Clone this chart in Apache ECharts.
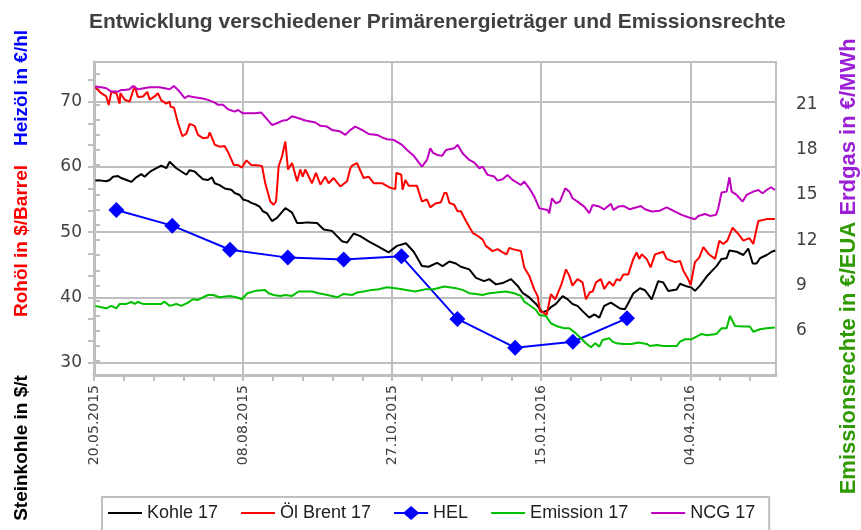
<!DOCTYPE html>
<html>
<head>
<meta charset="utf-8">
<script src="https://cdn.jsdelivr.net/npm/echarts@6/dist/echarts.min.js"></script>
<style>
  html, body { margin: 0; padding: 0; background: #fff; }
  #chart { width: 861px; height: 530px; }
</style>
</head>
<body>
<div id="chart"></div>
<script>
// x values are days after 20.05.2015
const startDate = Date.UTC(2015, 4, 20)
const xLabelDays = [0, 80, 160, 240, 320]
const leftLabels = [30, 40, 50, 60, 70]
const rightLabels = [6, 9, 12, 15, 18, 21]

const kohle = [[0.7,57.9],[3.9,57.9],[6.6,57.8],[8.4,58.0],[10.2,58.5],[12.9,58.6],[14.7,58.3],[17.4,58.0],[20,57.7],[22.7,58.4],[25.4,58.9],[27.2,58.5],[29,59.0],[30.8,59.4],[33.5,59.8],[36.1,60.2],[38.8,59.8],[40.6,60.8],[42.4,60.3],[44.2,59.8],[46.9,59.3],[49.6,58.8],[51.3,59.5],[54,59.3],[55.8,58.8],[58.5,58.1],[61.2,58.0],[63.3,58.4],[64.8,57.5],[67.4,57.2],[70.1,56.7],[73.7,56.5],[75.5,56.0],[78.2,55.7],[80,55.0],[82.6,54.8],[84.4,54.5],[87.1,54.2],[88.9,53.9],[90.7,53.2],[92.8,52.9],[95.5,51.7],[98.2,52.2],[102.7,53.7],[106.3,53.0],[109,51.4],[111.6,51.4],[114.3,51.5],[119.7,51.4],[123.3,50.4],[127.7,50.2],[133.1,48.6],[135.8,48.4],[139.4,49.8],[142.9,49.4],[147.4,48.6],[151.9,47.9],[158.1,46.9],[162.6,47.9],[167.4,48.3],[171.6,47.0],[176,44.8],[179.6,44.7],[184.1,45.3],[187.1,44.8],[190.7,45.5],[194.2,45.2],[196.9,44.7],[201.4,44.3],[205,43.0],[209.4,42.5],[212.1,42.8],[215.7,42.0],[219.3,42.2],[223.8,42.8],[227.3,41.8],[230,40.7],[233.6,40.0],[237.2,39.0],[240.7,37.7],[243.4,38.0],[245.2,38.5],[247.9,39.0],[251.5,40.2],[254.2,39.7],[256.8,39.0],[259.5,38.7],[262.2,37.9],[265.8,36.9],[268.5,37.4],[271.2,36.9],[273.8,38.7],[277.4,39.2],[280.1,38.7],[282.3,38.3],[284.9,38.2],[286.7,39.1],[289.4,40.6],[293,41.4],[295.7,41.1],[299.3,39.7],[302.8,42.5],[305.5,42.3],[308.2,41.0],[312.7,41.2],[314.5,42.1],[318,41.7],[320.7,41.5],[322.5,41.0],[325.2,41.8],[328.8,43.2],[332.4,44.3],[334.1,44.8],[336.8,45.9],[339.5,46.0],[341,47.2],[344.9,47.0],[348.5,46.5],[351.1,47.5],[353.5,45.2],[355.6,45.2],[357.4,46.0],[361,46.5],[363.7,47.0],[365.6,47.2]]

const brent = [[0.7,72.2],[3.9,71.3],[6.6,70.8],[7.9,69.5],[9.3,71.5],[12,71.3],[13.8,69.7],[14.1,71.3],[16.5,70.3],[19.1,70.0],[21.8,72.4],[23.6,70.7],[26.3,70.8],[28.6,71.5],[29.9,70.3],[32.6,70.8],[34.3,71.3],[36.1,70.2],[38.8,69.7],[40.6,70.0],[41.1,69.2],[42.9,69.1],[45.1,66.7],[47.4,64.7],[49.6,65.1],[51.3,66.6],[54,66.3],[55.8,64.9],[58.5,64.4],[61.2,64.5],[62.1,65.3],[64.8,63.4],[67.4,63.1],[70.1,63.2],[71.9,62.3],[75,60.3],[77.3,60.3],[79.4,59.9],[81.8,61.0],[84.4,60.3],[88.9,60.2],[90.2,60.1],[91.9,57.5],[94.6,54.7],[96.4,54.2],[97.7,54.7],[99.1,60.1],[100.9,61.6],[102.7,63.9],[104.1,59.6],[106.3,60.6],[109,57.8],[110.7,59.6],[112,58.5],[113.4,59.6],[117,57.5],[119.1,59.1],[121.5,57.3],[124.1,58.5],[125.9,57.5],[128.6,58.3],[132.2,57.0],[135.8,57.8],[137.6,59.8],[138.5,60.2],[141.1,60.6],[144.7,58.3],[147.4,58.5],[150.1,57.5],[154.6,57.5],[159,56.8],[161.7,56.6],[162.3,59.1],[164.9,58.8],[165.6,56.5],[167.1,58.0],[168.9,57.1],[173.3,57.1],[176,54.7],[178.7,55.0],[180.5,53.8],[183.2,54.4],[186.2,54.6],[188,56.0],[189.2,56.0],[190.7,54.5],[193.3,54.2],[195.1,53.2],[196.9,53.2],[199.6,51.7],[203.2,49.9],[205,49.6],[208.5,48.9],[210.3,47.9],[213.9,47.1],[216.6,47.4],[219.3,46.9],[221.4,46.6],[222.9,47.6],[224.6,47.4],[229.1,47.1],[230.9,44.6],[233.6,43.3],[236.3,41.2],[238.1,40.2],[239.3,37.9],[241.1,37.7],[242.9,37.3],[245.2,40.5],[247.5,39.7],[250.6,41.8],[253.3,44.3],[255.1,43.3],[256.8,41.8],[259.5,42.8],[262.2,42.3],[264,39.7],[266.1,40.8],[267.6,40.9],[269.4,42.3],[272,42.8],[273.8,41.3],[276.5,42.4],[278.7,41.8],[280.5,42.8],[282.3,42.6],[284.1,43.5],[286.7,43.5],[289.4,45.9],[291.2,46.9],[292.6,45.9],[293.9,46.6],[296.6,45.9],[298.7,44.6],[301.1,46.6],[305.5,47.0],[307.3,45.9],[311.8,45.4],[314.5,45.6],[316.3,44.1],[318.9,42.8],[320.2,41.9],[322.5,45.4],[324.8,46.1],[327,47.7],[329.7,46.7],[333.3,45.9],[335.6,48.7],[337.7,48.2],[339.9,48.7],[342.7,50.7],[345.8,49.7],[348.5,48.7],[351.7,49.1],[353.8,48.2],[356.5,51.7],[361,52.0],[365.4,52.0]]

const hel = [[12,53.4],[42,51.0],[73,47.3],[104,46.1],[134,45.8],[165,46.3],[195,36.7],[226,32.3],[257,33.2],[286,36.8]]

const emission = [[0.7,7.64],[3.9,7.55],[6.6,7.48],[9.3,7.64],[12,7.48],[13.8,7.77],[17.4,7.77],[20,7.9],[21.8,7.77],[23.6,7.9],[26.3,7.77],[32.6,7.77],[36.1,7.77],[37.9,7.92],[40.6,7.64],[44.2,7.77],[46.9,7.64],[50.4,7.86],[53.1,8.08],[55.8,8.03],[58.5,8.21],[61.2,8.36],[63.9,8.36],[67.4,8.21],[72.8,8.3],[76.4,8.21],[79.4,8.08],[82.3,8.48],[87.1,8.65],[91.6,8.7],[93.7,8.48],[96.4,8.36],[100,8.3],[102.7,8.36],[106.3,8.3],[109.8,8.59],[117,8.59],[120.6,8.48],[125.9,8.34],[130.4,8.21],[134,8.43],[138.5,8.36],[141.1,8.52],[144.7,8.59],[149.2,8.7],[152.8,8.74],[157.2,8.87],[161.7,8.81],[165.3,8.74],[169.8,8.65],[172.4,8.59],[177.8,8.74],[182.3,8.74],[188,8.92],[194.2,8.81],[197.8,8.7],[201.4,8.48],[205,8.43],[208.5,8.36],[212.1,8.48],[215.7,8.52],[221.1,8.59],[225.5,8.48],[229.1,8.3],[230.9,7.92],[233.6,7.7],[237.2,7.37],[239,7.04],[242.5,6.97],[245.2,6.49],[248.8,6.27],[252.4,6.16],[255.1,6.16],[258.6,5.82],[261.3,5.49],[264,5.16],[266.7,4.9],[269,5.16],[271.2,4.94],[272.9,5.38],[276.5,5.49],[278.3,5.27],[280.5,5.16],[284.1,5.12],[288.5,5.12],[292.1,5.21],[296.6,5.12],[298.4,4.98],[302,5.05],[305.5,4.98],[312.7,4.98],[314.5,5.27],[317.2,5.43],[320.7,5.43],[323.4,5.6],[326.1,5.78],[328.8,5.69],[334.1,5.78],[336.8,6.16],[339.5,6.16],[341.3,6.97],[344,6.31],[348.5,6.27],[352,6.27],[353.8,5.93],[357.4,6.09],[361,6.16],[365.4,6.2]]

const ncg = [[0.7,22.17],[3.9,22.13],[6.6,22.06],[9.3,21.84],[12.9,21.84],[14.7,21.95],[16.5,21.95],[19.1,21.99],[20.9,22.21],[23.6,21.99],[29.9,22.13],[35.2,22.13],[40.6,21.99],[42.9,22.21],[45.9,21.84],[48.7,21.4],[50.4,21.55],[54,21.46],[57.6,21.4],[61.2,21.29],[64.8,21.11],[66.6,20.96],[69.2,20.96],[71.9,20.67],[75.5,20.51],[77.3,20.62],[79.9,20.4],[86.2,20.4],[89.8,20.45],[92.5,20.07],[95.5,19.63],[98.2,19.74],[100.9,19.9],[103.6,19.96],[106.3,20.2],[109.8,20.07],[113.4,19.92],[118.8,19.79],[121.5,19.57],[125,19.52],[127.7,19.3],[132.2,19.19],[134.9,18.97],[137.6,19.3],[140.2,19.52],[143.8,19.3],[147.4,19.03],[151.9,18.97],[154.6,18.81],[157.2,18.68],[160.8,18.64],[165.3,18.31],[168,17.97],[171.6,17.58],[176,16.87],[178.7,17.31],[180.5,18.08],[181.8,17.8],[184.1,17.64],[186.8,17.58],[188.9,17.97],[193.3,18.08],[195.1,18.31],[197.8,17.75],[201.4,17.31],[204.1,17.13],[206.8,16.76],[208.5,16.87],[211.2,16.32],[214.8,16.21],[216.6,15.94],[219.3,16.03],[221.9,16.32],[224.6,15.99],[229.1,15.65],[230.9,15.88],[233.6,15.43],[236.3,14.88],[239,14.1],[241.6,14.04],[243.4,14.0],[244.3,13.78],[245.8,14.77],[247.9,14.44],[250,14.55],[252.9,15.43],[255.1,15.21],[256.8,14.77],[259.5,14.55],[263.1,14.22],[265.8,13.78],[267.6,14.33],[271.2,14.22],[273.8,14.04],[277.4,14.4],[278.7,14.0],[281.4,14.22],[284.1,14.26],[287.6,14.04],[291.2,14.17],[293.4,14.26],[295.7,14.04],[299.3,13.89],[303.7,13.95],[307.3,14.17],[311.8,13.89],[315.4,13.67],[318.9,13.51],[322.5,13.38],[324.3,13.6],[327.9,13.73],[330.6,13.6],[333.8,13.67],[335,14.11],[336.8,15.15],[339.5,15.21],[341,16.16],[342.2,15.21],[344.9,14.99],[348.1,14.55],[350.2,14.99],[353.8,15.21],[356.5,15.32],[358.8,15.1],[361,15.32],[363.3,15.5],[365.4,15.32]]

const grey = '#bfbfbf'
const labelColor = '#404040'
const lineIcon = 'path://M0,6L34,6L34,8L0,8Z'
const diamondIcon = 'path://M0,6L10,6L17,0L24,6L34,6L34,8L24,8L17,14L10,8L0,8Z'

function fmtDay(d) {
  const dt = new Date(startDate + d * 86400000)
  const p = (n) => (n < 10 ? '0' : '') + n
  return p(dt.getUTCDate()) + '.' + p(dt.getUTCMonth() + 1) + '.' + dt.getUTCFullYear()
}

const xTicks = []
for (let d = 0; d < 366; d += 16) xTicks.push(d)
const leftTicks = []
for (let i = 0; i < 14; i++) leftTicks.push(30 + i * 10 / 3)
const rightTicks = []
for (let v = 4; v <= 23; v++) rightTicks.push(v)

const leftMin = 28.11, leftMax = 76.08
const rightMin = 3.06, rightMax = 23.8

const chart = echarts.init(document.getElementById('chart'))

function lineSeries(name, data, color, yIdx) {
  return {
    name: name,
    type: 'line',
    data: data,
    xAxisIndex: 0,
    yAxisIndex: yIdx,
    symbol: 'none',
    lineStyle: { color: color, width: 2 },
    itemStyle: { color: color },
    animation: false
  }
}

function axisName(text, x, y, color, size) {
  return {
    type: 'text', x: x, y: y, rotation: Math.PI / 2,
    style: { text: text, fill: color, font: 'bold ' + size + 'px "Liberation Sans"', align: 'center', verticalAlign: 'middle' }
  }
}

chart.setOption({
  animation: false,
  title: {
    text: 'Entwicklung verschiedener Primärenergieträger und Emissionsrechte',
    left: 84,
    top: 7,
    textStyle: { fontFamily: 'Liberation Sans', fontSize: 21, fontWeight: 'bold', color: labelColor }
  },
  grid: {
    left: 94, right: 85, top: 62, bottom: 155,
    show: true, borderColor: grey, borderWidth: 2
  },
  legend: {
    left: 102,
    top: 497,
    padding: [7, 14, 14, 6],
    itemGap: 23,
    itemWidth: 34,
    itemHeight: 14,
    symbolKeepAspect: true,
    borderColor: grey,
    borderWidth: 2,
    textStyle: { fontFamily: 'Liberation Sans Narrow, Liberation Sans', fontSize: 18, color: '#202020' },
    data: [
      { name: 'Kohle 17', icon: lineIcon },
      { name: 'Öl Brent 17', icon: lineIcon },
      { name: 'HEL', icon: diamondIcon },
      { name: 'Emission 17', icon: lineIcon },
      { name: 'NCG 17', icon: lineIcon }
    ]
  },
  xAxis: [{
    type: 'value', min: 0, max: 366, position: 'bottom',
    axisLine: { lineStyle: { color: grey, width: 3 } },
    axisTick: { customValues: xTicks, length: 6, lineStyle: { color: grey, width: 2 } },
    axisLabel: {
      customValues: xLabelDays, rotate: 90, margin: 10,
      fontFamily: 'DejaVu Sans', fontSize: 14, color: labelColor,
      formatter: fmtDay
    },
    splitLine: { show: false }
  }, {
    type: 'value', min: 0, max: 366, position: 'top',
    axisLine: { show: false },
    axisTick: { show: false, customValues: xLabelDays },
    axisLabel: { show: false },
    splitLine: { show: true, lineStyle: { color: grey, width: 2 } }
  }],
  yAxis: [{
    type: 'value', min: leftMin, max: leftMax, position: 'left',
    axisLine: { show: true, lineStyle: { color: grey, width: 3 } },
    axisTick: { show: true, customValues: leftTicks, length: 6, lineStyle: { color: grey, width: 2 } },
    axisLabel: {
      customValues: leftLabels, margin: 12,
      fontFamily: 'DejaVu Sans', fontSize: 17, color: labelColor,
      formatter: (v) => String(Math.round(v))
    },
    splitLine: { show: false }
  }, {
    type: 'value', min: rightMin, max: rightMax, position: 'right',
    axisLine: { show: true, lineStyle: { color: grey, width: 3 } },
    axisTick: { show: true, customValues: rightTicks, length: 6, lineStyle: { color: grey, width: 2 } },
    axisLabel: {
      customValues: rightLabels, margin: 20,
      fontFamily: 'DejaVu Sans', fontSize: 17, color: labelColor,
      formatter: (v) => String(Math.round(v))
    },
    splitLine: { show: false }
  }, {
    type: 'value', min: leftMin, max: leftMax, position: 'left',
    axisLine: { show: false },
    axisTick: { show: false, customValues: leftLabels },
    axisLabel: { show: false },
    splitLine: { show: true, lineStyle: { color: grey, width: 2 } }
  }],
  graphic: [
    axisName('Heizöl in €/hl', 22, 88, '#0000ff', 19),
    axisName('Rohöl in $/Barrel', 22, 241, '#ff0000', 19),
    axisName('Steinkohle in $/t', 22, 448, '#000000', 19),
    axisName('Erdgas in €/MWh', 849, 127, '#9b1fd6', 22),
    axisName('Emissionsrechte in €/EUA', 849, 358, '#2e9900', 22)
  ],
  series: [
    lineSeries('Kohle 17', kohle, '#000000', 0),
    lineSeries('Öl Brent 17', brent, '#ff0000', 0),
    {
      name: 'HEL', type: 'line', data: hel, xAxisIndex: 0, yAxisIndex: 0,
      symbol: 'diamond', symbolSize: 16, showSymbol: true,
      lineStyle: { color: '#0000ff', width: 2 },
      itemStyle: { color: '#0000ff' },
      animation: false
    },
    lineSeries('Emission 17', emission, '#00c000', 1),
    lineSeries('NCG 17', ncg, '#c000c0', 1)
  ]
})
</script>
</body>
</html>
